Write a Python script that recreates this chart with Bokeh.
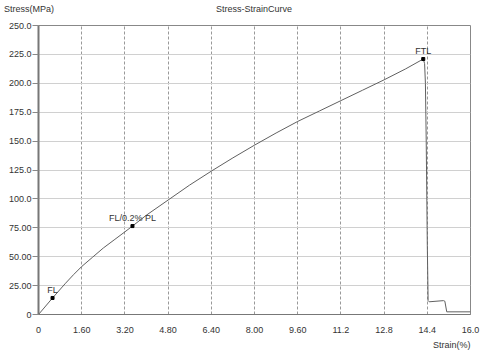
from bokeh.plotting import figure
from bokeh.models import FixedTicker, Label, Range1d, Title, Div
from bokeh.layouts import column
from bokeh.embed import file_html
from bokeh.resources import INLINE

# data
strain = [0, 0.52, 1.0, 1.3, 1.6, 2.0, 2.4, 2.8, 3.2, 3.48, 4.0, 4.8, 5.6, 6.4, 7.2,
          8.0, 8.8, 9.6, 10.4, 11.2, 12.0, 12.8, 13.6, 14.25,
          14.30, 14.33, 14.36, 14.40, 14.43, 14.47, 15.0, 15.05, 15.12, 16.0]
stress = [0, 14.3, 27, 34.5, 41.5, 49.5, 57.5, 64.5, 71.5, 76.5, 86, 99, 112, 124, 135.5,
          146.5, 157, 167, 176, 185, 194, 203, 212.5, 221,
          217, 200, 150, 60, 12, 11, 12, 11.5, 2.3, 2.3]

pt_names = ["FL", "FL/0.2% PL", "FTL"]
pt_strain = [0.52, 3.48, 14.25]
pt_stress = [14.3, 76.5, 221]

x_ticks = [0, 1.6, 3.2, 4.8, 6.4, 8.0, 9.6, 11.2, 12.8, 14.4, 16.0]
x_labels = ["0", "1.60", "3.20", "4.80", "6.40", "8.00", "9.60", "11.2", "12.8", "14.4", "16.0"]
y_ticks = [0, 25, 50, 75, 100, 125, 150, 175, 200, 225, 250]
y_labels = ["0", "25.00", "50.00", "75.00", "100.0", "125.0", "150.0", "175.0", "200.0", "225.0", "250.0"]

title_text = "Stress-StrainCurve"
y_title = "Stress(MPa)"
x_title = "Strain(%)"

FONT = "Liberation Sans"
TXT = "#333333"

header = Div(
    text=(
        '<div style="position:relative;width:480px;height:17px;'
        "font-family:'Liberation Sans',Arial,sans-serif;font-size:9px;line-height:10px;color:#333333\">"
        '<span style="position:absolute;left:4px;top:4px;white-space:nowrap">' + y_title + '</span>'
        '<span style="position:absolute;left:154px;width:200px;top:4px;text-align:center;white-space:nowrap">'
        + title_text + '</span></div>'
    ),
    width=480, height=17, margin=(0, 0, 0, 0),
)

p = figure(width=480, height=334, output_backend="svg", toolbar_location=None,
           x_range=Range1d(0, 16), y_range=Range1d(0, 250),
           min_border_left=38, min_border_right=10, min_border_top=8, min_border_bottom=33,
           margin=(0, 0, 0, 0))

p.outline_line_color = "#888888"
p.outline_line_width = 1
p.background_fill_color = "white"
p.border_fill_color = "white"

p.xaxis.ticker = FixedTicker(ticks=x_ticks)
p.xaxis.major_label_overrides = {t: l for t, l in zip(x_ticks, x_labels)}
p.yaxis.ticker = FixedTicker(ticks=y_ticks)
p.yaxis.major_label_overrides = {t: l for t, l in zip(y_ticks, y_labels)}

for ax in (p.xaxis, p.yaxis):
    ax.major_label_text_font = FONT
    ax.major_label_text_font_size = "9px"
    ax.major_label_text_color = TXT
    ax.minor_tick_line_color = None
    ax.axis_line_color = "#777777"

p.xaxis.major_tick_line_color = None
p.xaxis.major_label_standoff = 6
p.yaxis.major_tick_in = 0
p.yaxis.major_tick_out = 6
p.yaxis.major_tick_line_color = "#888888"
p.yaxis.major_label_standoff = 1
p.yaxis.axis_line_width = 2

p.xgrid.grid_line_color = "#999999"
p.xgrid.grid_line_dash = "3 2"
p.xgrid.grid_line_width = 1
p.ygrid.grid_line_color = "#d0d0d0"
p.ygrid.grid_line_width = 1

xt = Title(text=x_title, align="right", text_font=FONT, text_font_size="9px",
           text_font_style="normal", text_color=TXT, standoff=4, offset=0)
p.add_layout(xt, "below")

p.line(strain, stress, line_color="#606060", line_width=1)
p.scatter(pt_strain, pt_stress, marker="square", size=3, color="black")

for n, xs, ys in zip(pt_names, pt_strain, pt_stress):
    p.add_layout(Label(x=xs, y=ys, text=n, text_align="center", text_baseline="bottom",
                       y_offset=3, text_font=FONT, text_font_size="9px", text_color=TXT))

layout = column(header, p, spacing=0, margin=(0, 0, 0, 0))
open("out.html", "w").write(file_html(layout, INLINE))
